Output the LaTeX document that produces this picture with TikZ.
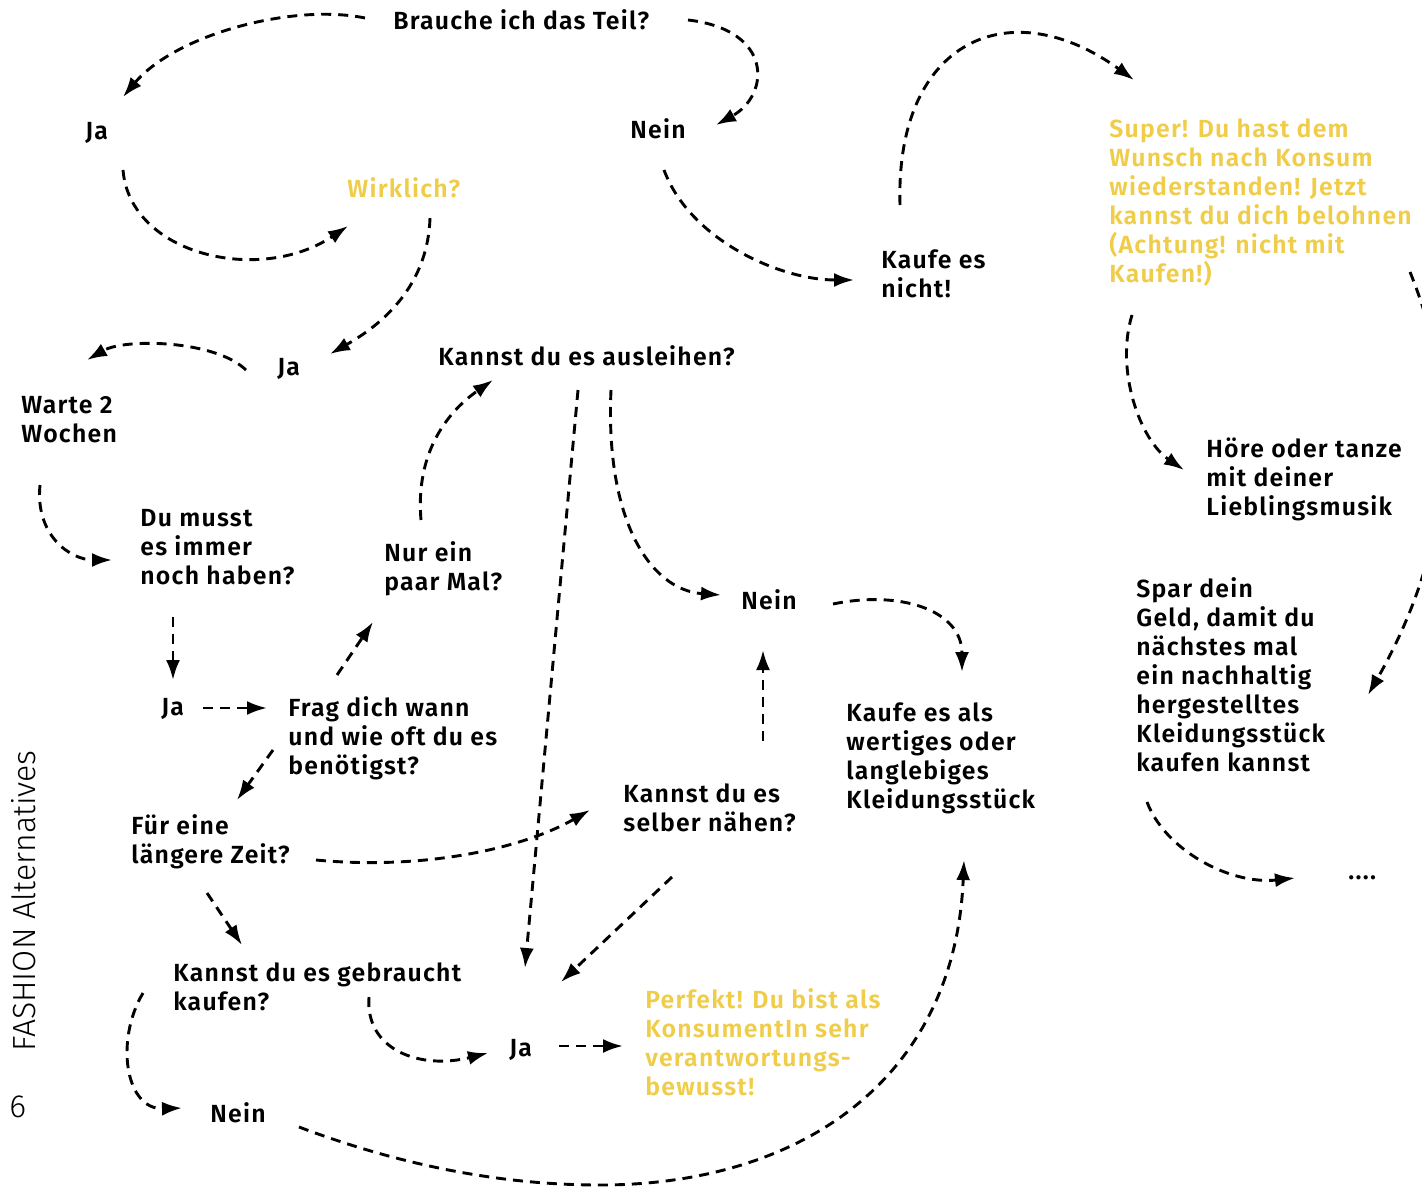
\documentclass[tikz,border=0pt]{standalone}
\usepackage{fontspec}
\setmainfont{Fira Sans SemiBold}[LetterSpace=5]
\newfontfamily\lightfont{Fira Sans Light}
\usetikzlibrary{arrows.meta}
\definecolor{yel}{RGB}{240,205,72}
\begin{document}
\begin{tikzpicture}[x=0.5pt,y=-0.5pt,
  txt/.style={anchor=north west, inner sep=0pt, align=left, font=\fontsize{12.4}{14.5}\selectfont, execute at begin node=\strut},
  arr/.style={line width=1.45pt, dash pattern=on 5pt off 3.5pt, -{Latex[length=10pt,width=7pt]}}]
\useasboundingbox (0,0) rectangle (1422,1192);
\fill[white] (0,0) rectangle (1422,1192);
\clip (0,0) rectangle (1422,1192);

\node[txt] (brauche) at (393,9) {Brauche ich das Teil?};
\node[txt] (ja1) at (85,119) {Ja};
\node[txt] (nein1) at (630,118) {Nein};
\node[txt,text=yel] (wirklich) at (347,177) {Wirklich?};
\node[txt] (kaufenicht) at (881,249) {Kaufe es\\nicht!};
\node[txt,text=yel] (super) at (1109,118) {Super! Du hast dem\\Wunsch nach Konsum\\wiederstanden! Jetzt\\kannst du dich belohnen\\(Achtung! nicht mit\\Kaufen!)};
\node[txt] (ja2) at (277,355) {Ja};
\node[txt] (ausleihen) at (438,345) {Kannst du es ausleihen?};
\node[txt] (warte) at (21,396) {Warte 2\\Wochen};
\node[txt] (hoere) at (1206,437) {Höre oder tanze\\mit deiner\\Lieblingsmusik};
\node[txt] (dumusst) at (140,509) {Du musst\\es immer\\noch haben?};
\node[txt] (nurein) at (384,541) {Nur ein\\paar Mal?};
\node[txt] (nein2) at (741,589) {Nein};
\node[txt] (spar) at (1136,577) {Spar dein\\Geld, damit du\\nächstes mal\\ein nachhaltig\\hergestelltes\\Kleidungsstück\\kaufen kannst};
\node[txt] (ja3) at (161,695) {Ja};
\node[txt] (frag) at (288,696) {Frag dich wann\\und wie oft du es\\benötigst?};
\node[txt] (kaufeals) at (846,702) {Kaufe es als\\wertiges oder\\langlebiges\\Kleidungsstück};
\node[txt] (naehen) at (623,783) {Kannst du es\\selber nähen?};
\node[txt] (fuereine) at (131,814) {Für eine\\längere Zeit?};
\node[txt] (dots) at (1348,859) {....};
\node[txt] (gebraucht) at (173,962) {Kannst du es gebraucht\\kaufen?};
\node[txt,text=yel] (perfekt) at (645,988) {Perfekt! Du bist als\\KonsumentIn sehr\\verantwortungs-\\bewusst!};
\node[txt] (ja4) at (509,1036) {Ja};
\node[txt] (nein3) at (210,1102) {Nein};

\node[anchor=base west, rotate=90, inner sep=0pt, font=\lightfont\fontsize{16}{19}\selectfont] (fashion) at (35,1052) {FASHION Alternatives};
\node[anchor=base west, inner sep=0pt, font=\lightfont\fontsize{16}{19}\selectfont] (page) at (9,1117) {6};

\coordinate (low) at (600,1185);

\draw[arr] ([shift={(-28,9)}]brauche.north west) .. controls +(-73,-15) and +(52,-62) .. ([shift={(38,-22)}]ja1.north west);
\draw[arr] ([shift={(295,11)}]brauche.north west) .. controls +(86,10) and +(54,-30) .. ([shift={(86,7)}]nein1.north west);
\draw[arr] ([shift={(38,51)}]ja1.north west) .. controls +(7,85) and +(-88,59) .. ([shift={(1,49)}]wirklich.north west);
\draw[arr] ([shift={(83,41)}]wirklich.north west) .. controls +(-2,62) and +(60,-34) .. ([shift={(53,-1)}]ja2.north west);
\draw[arr] ([shift={(-31,15)}]ja2.north west) .. controls +(-31,-30) and +(38,-22) .. ([shift={(66,-36)}]warte.north west);
\draw[arr] ([shift={(34,52)}]nein1.north west) .. controls +(26,70) and +(-74,0) .. ([shift={(-27,31)}]kaufenicht.north west);
\draw[arr] ([shift={(19,-44)}]kaufenicht.north west) .. controls +(-5,-165) and +(-124,-90) .. ([shift={(25,-38)}]super.north west);
\draw[arr] ([shift={(23,197)}]super.north west) .. controls +(-17,55) and +(-44,-30) .. ([shift={(-22,33)}]hoere.north west);
\draw[arr] ([shift={(301,154)}]super.north west) .. controls +(60,148) and +(77,-135) .. ([shift={(232,118)}]spar.north west);
\draw[arr] ([shift={(11,225)}]spar.north west) .. controls +(18,48) and +(-65,7) .. ([shift={(-53,19)}]dots.north west);
\draw[arr] ([shift={(19,89)}]warte.north west) .. controls +(-5,50) and +(-42,0) .. ([shift={(-28,51)}]dumusst.north west);
\draw[arr] ([shift={(33,108)}]dumusst.north west) -- ([shift={(12,-15)}]ja3.north west);
\draw[arr] ([shift={(42,13)}]ja3.north west) -- ([shift={(-21,12)}]frag.north west);
\draw[arr] ([shift={(49,-21)}]frag.north west) -- ([shift={(-11,81)}]nurein.north west);
\draw[arr] ([shift={(37,-21)}]nurein.north west) .. controls +(-6,-70) and +(-43,30) .. ([shift={(55,35)}]ausleihen.north west);
\draw[arr] ([shift={(-15,54)}]frag.north west) -- ([shift={(106,-14)}]fuereine.north west);
\draw[arr] ([shift={(185,46)}]fuereine.north west) .. controls +(104,10) and +(-70,40) .. ([shift={(-33,27)}]naehen.north west);
\draw[arr] ([shift={(76,79)}]fuereine.north west) -- ([shift={(69,-17)}]gebraucht.north west);
\draw[arr] ([shift={(140,45)}]ausleihen.north west) -- ([shift={(16,-68)}]ja4.north west);
\draw[arr] ([shift={(173,45)}]ausleihen.north west) .. controls +(-6,130) and +(-71,-5) .. ([shift={(-20,6)}]nein2.north west);
\draw[arr] ([shift={(92,15)}]nein2.north west) .. controls +(67,-14) and +(0,-62) .. ([shift={(116,-30)}]kaufeals.north west);
\draw[arr] ([shift={(140,-42)}]naehen.north west) -- ([shift={(22,61)}]nein2.north west);
\draw[arr] ([shift={(49,94)}]naehen.north west) -- ([shift={(52,-54)}]ja4.north west);
\draw[arr] ([shift={(-30,31)}]gebraucht.north west) .. controls +(-28,47) and +(-57,2) .. ([shift={(-28,6)}]nein3.north west);
\draw[arr] ([shift={(196,35)}]gebraucht.north west) .. controls +(-4,53) and +(-68,17) .. ([shift={(-21,17)}]ja4.north west);
\draw[arr] ([shift={(50,10)}]ja4.north west) -- ([shift={(-22,58)}]perfekt.north west);
\draw[arr] ([shift={(89,25)}]nein3.north west) .. controls +(101,38) and +(-100,0) .. (low) .. controls +(200,0) and +(-9,220) .. ([shift={(118,158)}]kaufeals.north west);
\end{tikzpicture}
\end{document}
